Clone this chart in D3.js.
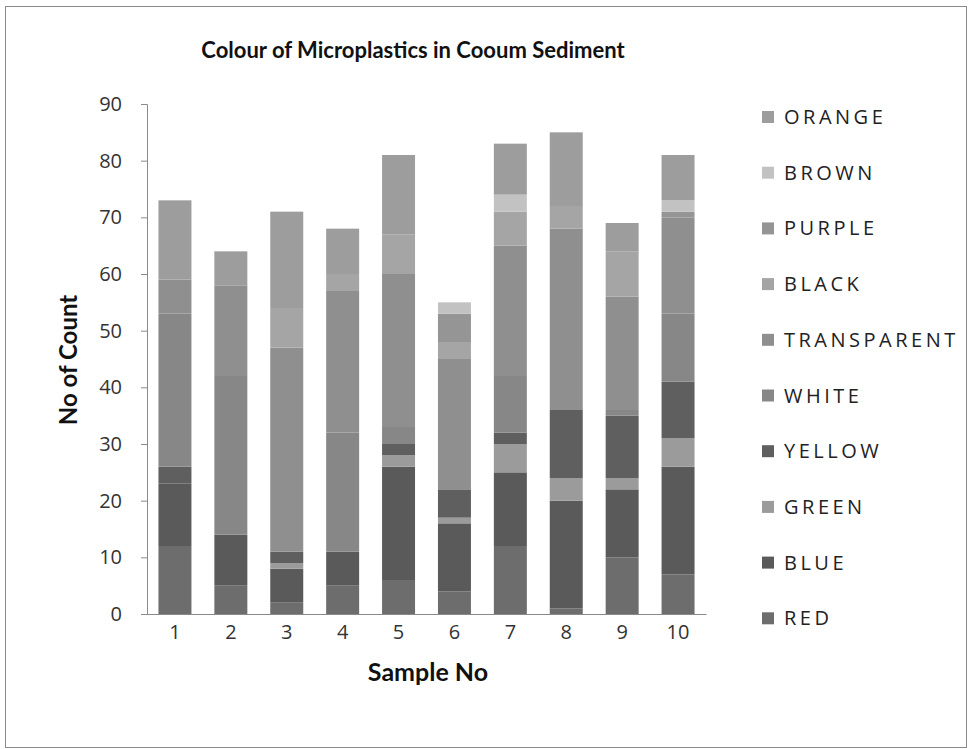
<!DOCTYPE html>
<html lang="en">
<head>
    <meta charset="UTF-8">
    <title>Colour of Microplastics in Cooum Sediment</title>
    <script src="https://d3js.org/d3.v7.min.js"></script>
    <style>
        body {
            margin: 0;
            padding: 0;
            background: #fff;
        }
        svg {
            display: block;
        }
        .tick-label {
            font-family: "Open Sans", sans-serif;
            font-size: 20px;
            fill: #333;
        }
        .legend-label {
            font-family: "Open Sans", sans-serif;
            font-size: 20px;
            letter-spacing: 3.5px;
            fill: #222;
        }
        .axis-title {
            font-family: "Lato", sans-serif;
            font-weight: bold;
            fill: #111;
        }
    </style>
</head>
<body>
<svg width="972" height="749"></svg>

<script>
    // Sample numbers on the x axis
    const samples = ["1", "2", "3", "4", "5", "6", "7", "8", "9", "10"];

    // Counts per colour, bottom of the stack first
    const red         = [12, 5, 2, 5, 6, 4, 12, 1, 10, 7];
    const blue        = [11, 9, 6, 6, 20, 12, 13, 19, 12, 19];
    const green       = [0, 0, 1, 0, 2, 1, 5, 4, 2, 5];
    const yellow      = [3, 0, 2, 0, 2, 5, 2, 12, 11, 10];
    const white       = [27, 28, 0, 21, 3, 0, 10, 0, 1, 12];
    const transparent = [6, 16, 36, 25, 27, 23, 23, 32, 20, 17];
    const black       = [0, 0, 7, 3, 7, 3, 6, 4, 8, 0];
    const purple      = [0, 0, 0, 0, 0, 5, 0, 0, 0, 1];
    const brown       = [0, 0, 0, 0, 0, 2, 3, 0, 0, 2];
    const orange      = [14, 6, 17, 8, 14, 0, 9, 13, 5, 8];

    const seriesNames = ["RED", "BLUE", "GREEN", "YELLOW", "WHITE", "TRANSPARENT", "BLACK", "PURPLE", "BROWN", "ORANGE"];
    const seriesValues = [red, blue, green, yellow, white, transparent, black, purple, brown, orange];
    const yTicks = [0, 10, 20, 30, 40, 50, 60, 70, 80, 90];

    // the picture is greyscale, so every colour is a shade of grey
    const shades = {
        RED: "#6d6d6d",
        BLUE: "#5a5a5a",
        GREEN: "#9b9b9b",
        YELLOW: "#5f5f5f",
        WHITE: "#878787",
        TRANSPARENT: "#8f8f8f",
        BLACK: "#a5a5a5",
        PURPLE: "#959595",
        BROWN: "#c2c2c2",
        ORANGE: "#9d9d9d"
    };

    // build rows for d3.stack
    const rows = samples.map((s, i) => {
        const row = { sample: s };
        seriesNames.forEach((name, k) => { row[name] = seriesValues[k][i]; });
        return row;
    });

    const svg = d3.select("svg");

    const plot = { left: 147, right: 706, top: 104, bottom: 614 };

    const x = d3.scaleBand()
        .domain(samples)
        .range([plot.left, plot.right])
        .paddingInner(0.41)
        .paddingOuter(0.205);

    const y = d3.scaleLinear()
        .domain([0, 90])
        .range([plot.bottom, plot.top]);

    // outer frame
    svg.append("rect")
        .attr("x", 5.5)
        .attr("y", 6.5)
        .attr("width", 961)
        .attr("height", 741)
        .attr("fill", "#fff")
        .attr("stroke", "#8a8a8a")
        .attr("stroke-width", 1);

    // title
    svg.append("text")
        .attr("class", "axis-title")
        .attr("x", 413)
        .attr("y", 58)
        .attr("text-anchor", "middle")
        .style("font-size", "22px")
        .text("Colour of Microplastics in Cooum Sediment");

    // stacked bars
    const stack = d3.stack().keys(seriesNames);
    const layers = stack(rows);

    svg.append("g")
        .selectAll("g")
        .data(layers)
        .join("g")
        .attr("fill", d => shades[d.key])
        .selectAll("rect")
        .data(d => d)
        .join("rect")
        .attr("x", d => x(d.data.sample))
        .attr("y", d => y(d[1]))
        .attr("width", x.bandwidth())
        .attr("height", d => y(d[0]) - y(d[1]));

    // y axis
    const yAxis = svg.append("g")
        .attr("transform", `translate(${plot.left},0)`)
        .call(d3.axisLeft(y).tickValues(yTicks).tickSize(6).tickPadding(19));
    yAxis.select(".domain").attr("stroke", "#8a8a8a");
    yAxis.selectAll(".tick line").attr("stroke", "#8a8a8a");
    yAxis.selectAll(".tick text").attr("class", "tick-label").attr("font-family", null).attr("font-size", null);

    // x axis
    const xAxis = svg.append("g")
        .attr("transform", `translate(0,${plot.bottom})`)
        .call(d3.axisBottom(x).tickSize(0).tickPadding(11));
    xAxis.select(".domain").attr("stroke", "#8a8a8a");
    xAxis.selectAll(".tick text").attr("class", "tick-label").attr("font-family", null).attr("font-size", null);

    // axis titles
    svg.append("text")
        .attr("class", "axis-title")
        .attr("x", 428)
        .attr("y", 681)
        .attr("text-anchor", "middle")
        .style("font-size", "25px")
        .text("Sample No");

    svg.append("text")
        .attr("class", "axis-title")
        .attr("transform", "translate(77,360) rotate(-90)")
        .attr("text-anchor", "middle")
        .style("font-size", "24px")
        .text("No of Count");

    // legend, top entry is the last series
    const legendNames = seriesNames.slice().reverse();
    const legend = svg.append("g")
        .selectAll("g")
        .data(legendNames)
        .join("g")
        .attr("transform", (d, i) => `translate(762,${117 + i * 55.7})`);

    legend.append("rect")
        .attr("x", 0)
        .attr("y", -6)
        .attr("width", 12)
        .attr("height", 12)
        .attr("fill", d => shades[d]);

    legend.append("text")
        .attr("class", "legend-label")
        .attr("x", 22)
        .attr("y", 7)
        .text(d => d);
</script>
</body>
</html>
